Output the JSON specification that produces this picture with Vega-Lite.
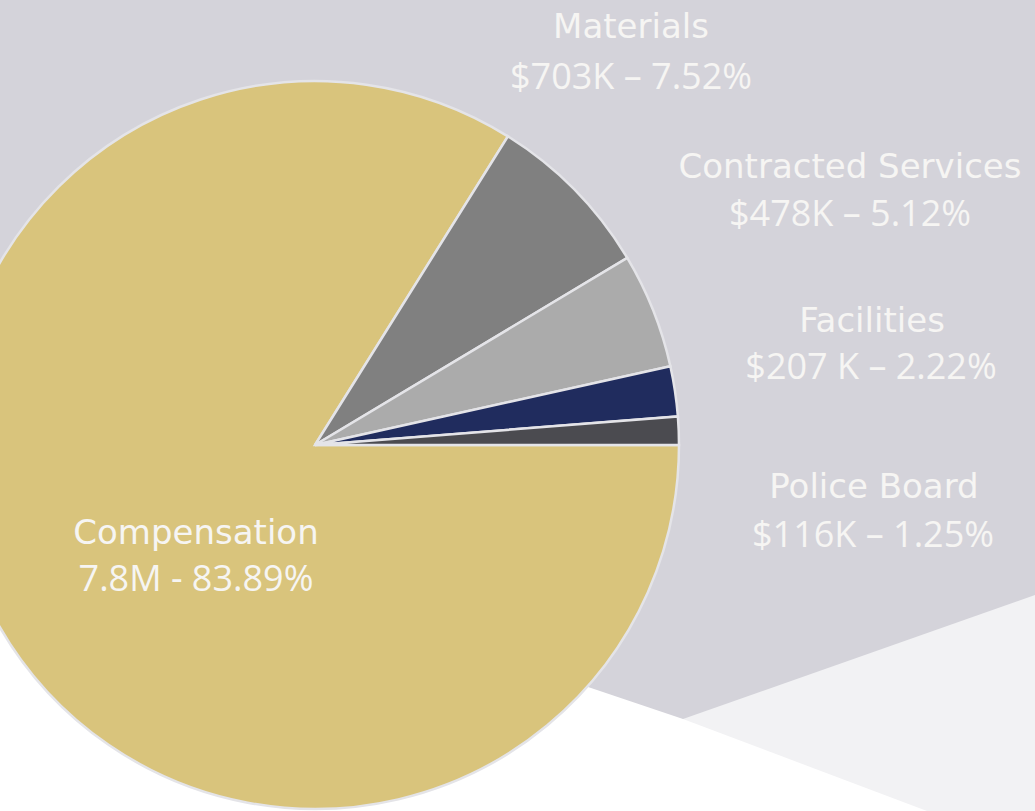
{
  "$schema": "https://vega.github.io/schema/vega-lite/v6.json",
  "width": 1035,
  "height": 811,
  "autosize": {"type": "none"},
  "padding": 0,
  "background": "#d4d3da",
  "config": {"view": {"stroke": null}},
  "datasets": {
    "slices": [
      {"category": "Compensation", "pct": 83.89, "order": 1, "amount": "7.8M - 83.89%"},
      {"category": "Materials", "pct": 7.52, "order": 2, "amount": "$703K – 7.52%"},
      {"category": "Contracted Services", "pct": 5.12, "order": 3, "amount": "$478K – 5.12%"},
      {"category": "Facilities", "pct": 2.22, "order": 4, "amount": "$207 K – 2.22%"},
      {"category": "Police Board", "pct": 1.25, "order": 5, "amount": "$116K – 1.25%"}
    ],
    "bgLight": [{"x": 683, "y": 719}, {"x": 1035, "y": 595}],
    "bgWhite": [{"x": 0, "y": 489}, {"x": 683, "y": 719}, {"x": 927, "y": 811}]
  },
  "layer": [
    {
      "data": {"name": "bgLight"},
      "mark": {"type": "area", "fill": "#f2f2f4", "interpolate": "linear"},
      "encoding": {
        "x": {"field": "x", "type": "quantitative", "scale": {"domain": [0, 1035], "nice": false, "zero": false}, "axis": null},
        "y": {"field": "y", "type": "quantitative", "scale": {"domain": [0, 811], "reverse": true, "nice": false, "zero": false}, "axis": null},
        "y2": {"datum": 811}
      }
    },
    {
      "data": {"name": "bgWhite"},
      "mark": {"type": "area", "fill": "#ffffff", "interpolate": "linear"},
      "encoding": {
        "x": {"field": "x", "type": "quantitative", "scale": {"domain": [0, 1035], "nice": false, "zero": false}, "axis": null},
        "y": {"field": "y", "type": "quantitative", "scale": {"domain": [0, 811], "reverse": true, "nice": false, "zero": false}, "axis": null},
        "y2": {"datum": 811}
      }
    },
    {
      "data": {"name": "slices"},
      "mark": {"type": "arc", "outerRadius": 364, "stroke": "#e4e4e8", "strokeWidth": 2.5},
      "encoding": {
        "x": {"datum": 315, "type": "quantitative", "scale": {"domain": [0, 1035], "nice": false, "zero": false}, "axis": null},
        "y": {"datum": 445, "type": "quantitative", "scale": {"domain": [0, 811], "reverse": true, "nice": false, "zero": false}, "axis": null},
        "theta": {"field": "pct", "type": "quantitative", "stack": true, "scale": {"range": [1.5708, 7.854]}},
        "order": {"field": "order", "type": "quantitative"},
        "color": {
          "field": "category",
          "type": "nominal",
          "scale": {
            "domain": ["Compensation", "Materials", "Contracted Services", "Facilities", "Police Board"],
            "range": ["#d9c47c", "#808080", "#ababab", "#202c5e", "#4b4b50"]
          },
          "legend": null
        }
      }
    },
    {
      "data": {"name": "slices"},
      "mark": {"type": "text", "align": "center", "baseline": "middle", "font": "DejaVu Sans", "fontSize": 34, "fill": "#f6f5f3"},
      "encoding": {
        "x": {"field": "order", "type": "quantitative", "scale": {"domain": [1, 2, 3, 4, 5], "range": [196, 631, 850, 872, 874], "nice": false, "zero": false}, "axis": null},
        "y": {"field": "order", "type": "quantitative", "scale": {"domain": [1, 2, 3, 4, 5], "range": [534, 28, 168, 322, 488], "nice": false, "zero": false}, "axis": null},
        "text": {"field": "category", "type": "nominal"}
      }
    },
    {
      "data": {"name": "slices"},
      "mark": {"type": "text", "align": "center", "baseline": "middle", "font": "Open Sans", "fontSize": 36, "fill": "#f6f5f3"},
      "encoding": {
        "x": {"field": "order", "type": "quantitative", "scale": {"domain": [1, 2, 3, 4, 5], "range": [196, 631, 850, 871, 873], "nice": false, "zero": false}, "axis": null},
        "y": {"field": "order", "type": "quantitative", "scale": {"domain": [1, 2, 3, 4, 5], "range": [580, 78, 215, 368, 536], "nice": false, "zero": false}, "axis": null},
        "text": {"field": "amount", "type": "nominal"}
      }
    }
  ],
  "resolve": {"scale": {"x": "independent", "y": "independent"}}
}
